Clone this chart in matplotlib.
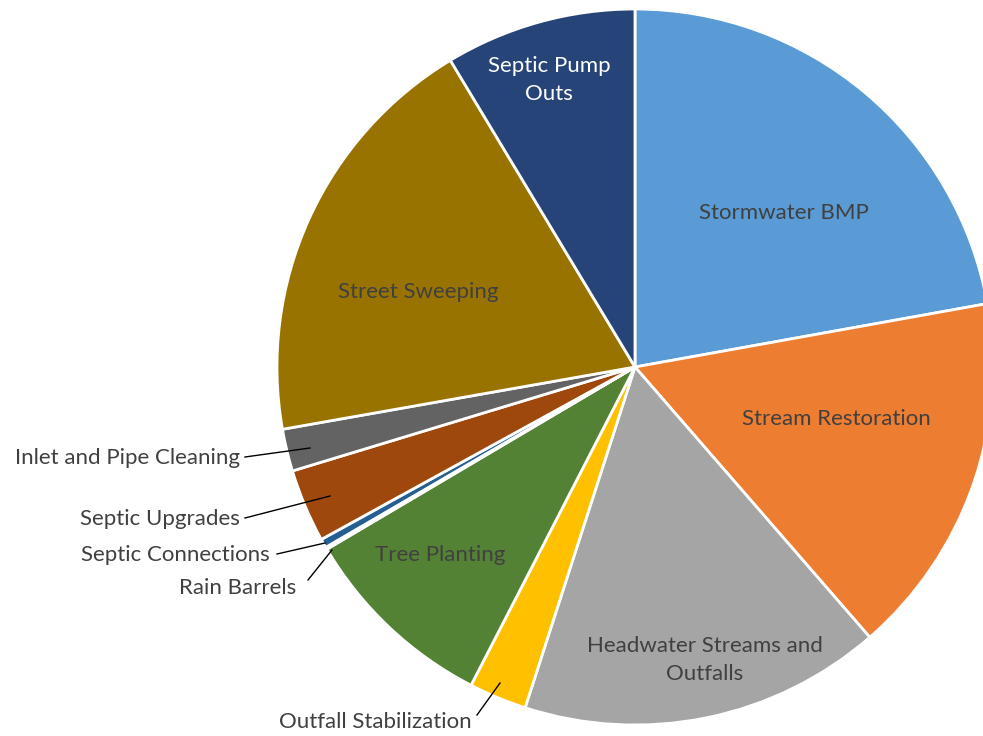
import matplotlib.pyplot as plt
import numpy as np

# shares of each program, clockwise from 12 o'clock
categories = ['Stormwater BMP', 'Stream Restoration', 'Headwater Streams and\nOutfalls',
              'Outfall Stabilization', 'Tree Planting', 'Rain Barrels',
              'Septic Connections', 'Septic Upgrades', 'Inlet and Pipe Cleaning',
              'Street Sweeping', 'Septic Pump\nOuts']
values = [22.1, 16.4, 16.3, 2.6, 8.9, 0.1, 0.4, 3.3, 1.9, 19.1, 8.6]
colors = ['#5B9BD5', '#ED7D31', '#A5A5A5', '#FFC000', '#548235', '#4472C4',
          '#255E91', '#9E480E', '#636363', '#997300', '#264478']

W, H = 983, 736
cx, cy, R = 635, H - 367, 358

plt.rcParams['font.family'] = ['Lato', 'DejaVu Sans']

fig = plt.figure(figsize=(W / 100, H / 100), dpi=100)
ax = fig.add_axes([0, 0, 1, 1])
wedges, _ = ax.pie(values, colors=colors, startangle=90, counterclock=False,
                   radius=R, center=(cx, cy),
                   wedgeprops=dict(edgecolor='white', linewidth=2))
ax.set_xlim(0, W)
ax.set_ylim(0, H)
ax.set_aspect('equal')
ax.axis('off')

txt = '#404040'
fs = 16

# labels inside the slices (image pixel positions)
inside = {
    'Stormwater BMP': (784, 213, txt),
    'Stream Restoration': (836, 419, txt),
    'Headwater Streams and\nOutfalls': (705, 660, txt),
    'Street Sweeping': (418, 292, txt),
    'Septic Pump\nOuts': (549, 80, 'white'),
    'Tree Planting': (440, 555, txt),
}
for name, (x, y, c) in inside.items():
    ax.text(x, H - y, name, ha='center', va='center', fontsize=fs, color=c,
            linespacing=1.5)

# labels outside with leader lines: text anchor (right end), line start, line end
outside = {
    'Inlet and Pipe Cleaning': ((240, 458), (245, 457), (310, 448)),
    'Septic Upgrades': ((240, 519), (245, 518), (330, 496)),
    'Septic Connections': ((270, 555), (277, 554), (325, 543)),
    'Rain Barrels': ((296, 588), (308, 580), (332, 550)),
}
for name, (t, a, b) in outside.items():
    ax.text(t[0], H - t[1], name, ha='right', va='center', fontsize=fs, color=txt)
    ax.plot([a[0], b[0]], [H - a[1], H - b[1]], color='black', lw=1)

ax.text(375, H - 722, 'Outfall Stabilization', ha='center', va='center',
        fontsize=fs, color=txt)
ax.plot([477, 500], [H - 715, H - 683], color='black', lw=1)

fig.savefig('out.png', dpi=100)
